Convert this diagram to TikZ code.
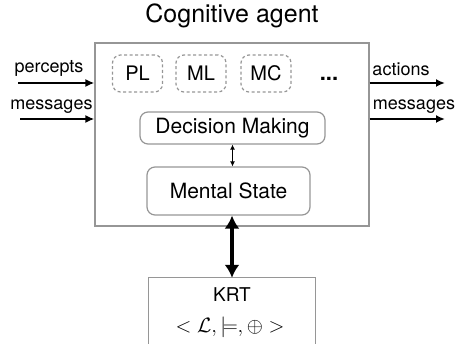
\documentclass[tikz,border=0pt]{standalone}
\usepackage{fontspec}
\setmainfont{TeX Gyre Heros}
\usetikzlibrary{arrows.meta}
\definecolor{boxgray}{RGB}{150,150,150}
\tikzset{
  lbl/.style={font=\fontsize{18}{20}\selectfont, inner sep=0pt, anchor=base},
  frame/.style={draw=boxgray, line width=1.2pt},
  modbox/.style={draw=boxgray, line width=1.2pt, dash pattern=on 3pt off 2.5pt, rounded corners=8pt,
    minimum width=50pt, minimum height=37pt, inner sep=0pt, font=\fontsize{20}{22}\selectfont},
  procbox/.style={draw=boxgray, line width=1.2pt, rounded corners=8pt, inner sep=0pt,
    font=\fontsize{21}{23}\selectfont},
  ioarrow/.style={line width=2pt, -{Latex[length=9pt,width=8pt]}},
  smallarrow/.style={line width=1.3pt, {Latex[length=5pt,width=5pt]}-{Latex[length=5pt,width=5pt]}},
  bigarrow/.style={line width=3.5pt, {Latex[length=13pt,width=15pt]}-{Latex[length=13pt,width=15pt]}}
}
\begin{document}
\begin{tikzpicture}[x=1pt,y=-1pt]
\useasboundingbox (0,0) rectangle (457,344);
% title
\node[font=\fontsize{25}{27}\selectfont, inner sep=0pt] (title) at (232,16) {Cognitive agent};
% main box
\node[frame, minimum width=274pt, minimum height=183pt, inner sep=0pt] (main) at (232,134.5) {};
% modules
\node[modbox] (pl) at (137.5,73.5) {PL};
\node[modbox] (ml) at (201,73.5) {ML};
\node[modbox] (mc) at (266,73.5) {MC};
\node[font=\fontsize{22}{24}\selectfont\bfseries, inner sep=0pt] (dots) at (329,79) {...};
% decision making and mental state
\node[procbox, minimum width=185pt, minimum height=32pt] (dm) at (232.5,128) {Decision Making};
\node[procbox, minimum width=163pt, minimum height=48pt] (ms) at (228.5,191) {Mental State};
% KRT box (open at the bottom)
\node[inner sep=0pt, minimum width=166pt, minimum height=66pt] (krt) at (232,311) {};
\draw[frame] (krt.south west) -- (krt.north west) -- (krt.north east) -- (krt.south east);
\node[font=\fontsize{19}{21}\selectfont, inner sep=0pt] (krtname) at (232,295) {KRT};
\node[font=\fontsize{20}{22}\selectfont, inner sep=0pt] (krtform) at (230,327) {$<\mathcal{L},\models,\oplus>$};
% labels
\node[lbl] (percepts) at (49,73) {percepts};
\node[lbl] (msgin) at (51.5,110) {messages};
\node[lbl] (actions) at (401,76) {actions};
\node[lbl] (msgout) at (414,110) {messages};
% io arrows
\coordinate (pin) at (18,83);
\coordinate (min) at (20,119);
\coordinate (aout) at (445,83);
\coordinate (mout) at (445,119);
\draw[ioarrow] (pin) -- (pin -| main.west);
\draw[ioarrow] (min) -- (min -| main.west);
\draw[ioarrow] (aout -| main.east) -- (aout);
\draw[ioarrow] (mout -| main.east) -- (mout);
% internal arrows
\draw[smallarrow] (dm.south) -- (dm.south |- ms.north);
\draw[bigarrow] (ms.south -| krt.north) -- (krt.north);
\end{tikzpicture}
\end{document}
